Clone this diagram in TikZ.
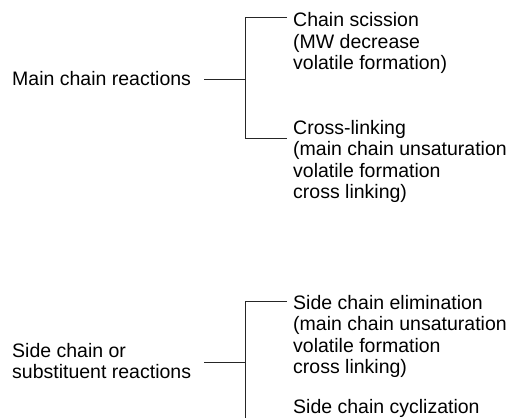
\documentclass[tikz,border=0pt]{standalone}
\usepackage{fontspec}
\setmainfont{Liberation Sans}
\begin{document}
\begin{tikzpicture}[x=1pt,y=-1pt,
  lbl/.style={inner sep=0pt,anchor=base west,align=left,
    font=\fontsize{19.5pt}{21.5pt}\selectfont},
  conn/.style={draw=black!85,line width=0.9pt}]
\useasboundingbox (0,0) rectangle (512,418);
% left labels (anchor = baseline of last line)
\node[lbl] (main) at (12,85) {Main chain reactions};
\node[lbl] (side) at (12,378.5) {Side chain or\\substituent reactions};
% right labels
\node[lbl] (cs) at (293,69.5) {Chain scission\\(MW decrease\\volatile formation)};
\node[lbl] (cl) at (293,198.5) {Cross-linking\\(main chain unsaturation\\volatile formation\\cross linking)};
\node[lbl] (sce) at (293,373.5) {Side chain elimination\\(main chain unsaturation\\volatile formation\\cross linking)};
\node[lbl] (scc) at (293,413) {Side chain cyclization};
% upper bracket
\coordinate (m0) at (204,79);
\coordinate (mj) at (245,79);
\coordinate (mt) at (245,17);
\coordinate (mb) at (245,138);
\coordinate (mte) at (287,17);
\coordinate (mbe) at (287,138);
\draw[conn] (m0) -- (mj);
\draw[conn] (mte) -- (mt) -- (mb) -- (mbe);
% lower bracket
\coordinate (s0) at (204,362);
\coordinate (sj) at (245,362);
\coordinate (st) at (245,301);
\coordinate (sb) at (245,418);
\coordinate (ste) at (287,301);
\draw[conn] (s0) -- (sj);
\draw[conn] (ste) -- (st) -- (sb);
\end{tikzpicture}
\end{document}
